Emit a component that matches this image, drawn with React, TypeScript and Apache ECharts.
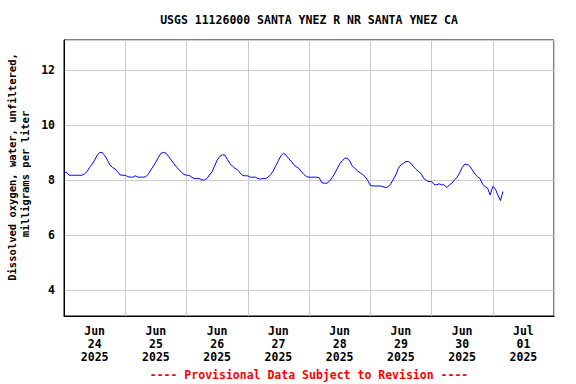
import React, { useEffect, useRef } from "react";
import * as echarts from "echarts";

const TITLE = "USGS 11126000 SANTA YNEZ R NR SANTA YNEZ CA";
const Y_LABEL_1 = "Dissolved oxygen, water, unfiltered,";
const Y_LABEL_2 = "milligrams per liter";
const FOOTER = "---- Provisional Data Subject to Revision ----";

const DAY_LABELS = ["Jun\n24\n2025", "Jun\n25\n2025", "Jun\n26\n2025", "Jun\n27\n2025", "Jun\n28\n2025", "Jun\n29\n2025", "Jun\n30\n2025", "Jul\n01\n2025"];

// Hourly dissolved oxygen (mg/L), hour 0..23 of each day
const jun24 = [8.28, 8.28, 8.17, 8.17, 8.17, 8.17, 8.17, 8.17, 8.22, 8.3, 8.45, 8.57, 8.72, 8.9, 9.0, 9.0, 8.88, 8.72, 8.55, 8.45, 8.4, 8.3, 8.18, 8.17];
const jun25 = [8.17, 8.12, 8.1, 8.1, 8.15, 8.1, 8.1, 8.1, 8.12, 8.2, 8.36, 8.5, 8.65, 8.82, 8.97, 9.0, 8.97, 8.85, 8.72, 8.6, 8.48, 8.38, 8.28, 8.2];
const jun26 = [8.17, 8.17, 8.1, 8.05, 8.05, 8.05, 8.0, 8.0, 8.05, 8.18, 8.3, 8.5, 8.72, 8.85, 8.91, 8.91, 8.75, 8.6, 8.5, 8.42, 8.37, 8.25, 8.16, 8.15];
const jun27 = [8.15, 8.1, 8.1, 8.1, 8.05, 8.03, 8.05, 8.05, 8.1, 8.2, 8.33, 8.52, 8.7, 8.88, 8.97, 8.9, 8.78, 8.68, 8.56, 8.48, 8.42, 8.3, 8.2, 8.12];
const jun28 = [8.1, 8.1, 8.1, 8.1, 8.08, 7.9, 7.88, 7.88, 7.95, 8.08, 8.22, 8.4, 8.58, 8.7, 8.79, 8.79, 8.68, 8.5, 8.42, 8.33, 8.26, 8.2, 8.12, 7.98];
const jun29 = [7.8, 7.78, 7.78, 7.78, 7.78, 7.75, 7.72, 7.75, 7.85, 8.02, 8.18, 8.42, 8.55, 8.6, 8.67, 8.67, 8.6, 8.48, 8.38, 8.3, 8.22, 8.05, 7.98, 7.94];
const jun30 = [7.94, 7.84, 7.82, 7.86, 7.82, 7.82, 7.72, 7.82, 7.88, 8.0, 8.1, 8.25, 8.45, 8.57, 8.57, 8.5, 8.36, 8.22, 8.12, 8.05, 7.84, 7.76, 7.7, 7.45];
const jul01 = [7.76, 7.68, 7.45, 7.25, 7.58];

const DAYS = [jun24, jun25, jun26, jun27, jun28, jun29, jun30, jul01];

const FONT = "'DejaVu Sans Mono', 'Liberation Mono', monospace";

export default function App() {
  const ref = useRef<HTMLDivElement>(null);

  useEffect(() => {
    if (!ref.current) return;
    const chart = echarts.init(ref.current, undefined, { renderer: "svg" });

    const data: [number, number][] = [];
    DAYS.forEach((day, d) => {
      day.forEach((v, h) => data.push([d * 24 + h, v]));
    });

    chart.setOption({
      animation: false,
      backgroundColor: "#ffffff",
      grid: {
        left: 64,
        right: 22,
        top: 40,
        bottom: 68,
        show: true,
        borderColor: "#000000",
        borderWidth: 1,
        containLabel: false,
      },
      xAxis: [
        {
          type: "value",
          min: 0,
          max: 192,
          interval: 24,
          axisLine: { show: true, lineStyle: { color: "#000", width: 1 } },
          axisTick: { show: false },
          axisLabel: { show: false },
          splitLine: { show: true, lineStyle: { color: "#cccccc", width: 1 } },
        },
        {
          type: "category",
          position: "bottom",
          data: DAY_LABELS,
          boundaryGap: true,
          axisLine: { show: false },
          axisTick: { show: false },
          splitLine: { show: false },
          axisLabel: {
            show: true,
            interval: 0,
            margin: 8,
            color: "#000",
            fontFamily: FONT,
            fontWeight: "bold",
            fontSize: 11.5,
            lineHeight: 13,
          },
        },
      ],
      yAxis: {
        type: "value",
        min: 3.05,
        max: 13.09,
        splitNumber: 5,
        axisLine: { show: true, lineStyle: { color: "#000", width: 1 } },
        axisTick: { show: false },
        axisLabel: {
          showMinLabel: false,
          showMaxLabel: false,
          margin: 9,
          color: "#000",
          fontFamily: FONT,
          fontWeight: "bold",
          fontSize: 11.5,
          formatter: (v: number) => (Math.abs(v - Math.round(v)) < 1e-6 && Math.round(v) % 2 === 0 ? String(Math.round(v)) : ""),
        },
        splitLine: { show: true, lineStyle: { color: "#cccccc", width: 1 } },
      },
      series: [
        {
          type: "line",
          xAxisIndex: 0,
          data,
          showSymbol: false,
          symbol: "none",
          lineStyle: { color: "#0000ff", width: 1 },
        },
      ],
      graphic: [
        {
          type: "text",
          x: 309,
          y: 20,
          style: {
            text: TITLE,
            fill: "#000",
            font: `bold 11.5px ${FONT}`,
            textAlign: "center",
            textVerticalAlign: "middle",
          },
        },
        {
          type: "text",
          x: 12,
          y: 167,
          rotation: Math.PI / 2,
          style: {
            text: Y_LABEL_1,
            fill: "#000",
            font: `bold 10.5px ${FONT}`,
            textAlign: "center",
            textVerticalAlign: "middle",
          },
        },
        {
          type: "text",
          x: 25,
          y: 174,
          rotation: Math.PI / 2,
          style: {
            text: Y_LABEL_2,
            fill: "#000",
            font: `bold 10.5px ${FONT}`,
            textAlign: "center",
            textVerticalAlign: "middle",
          },
        },
        {
          type: "text",
          x: 309,
          y: 375,
          style: {
            text: FOOTER,
            fill: "#ff0000",
            font: `bold 11.5px ${FONT}`,
            textAlign: "center",
            textVerticalAlign: "middle",
          },
        },
      ],
    });

    return () => chart.dispose();
  }, []);

  return <div ref={ref} style={{ width: 576, height: 384, position: "absolute", left: 0, top: 0 }} />;
}
